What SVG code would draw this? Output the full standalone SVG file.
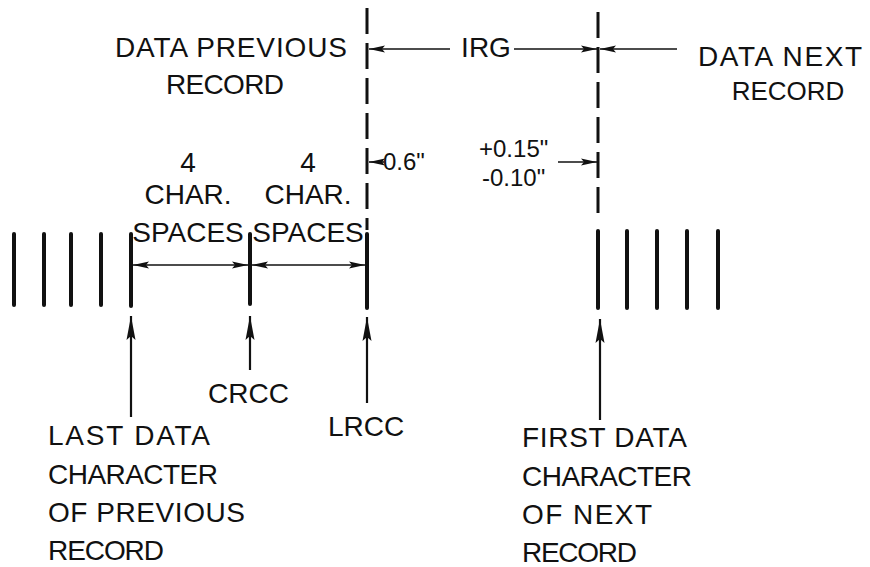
<svg xmlns="http://www.w3.org/2000/svg" width="870" height="567" viewBox="0 0 870 567">
<style>
text{font-family:"Liberation Sans",Arial,sans-serif;font-size:28px;fill:#111}
.sm{font-size:24px}
.bar{stroke:#111;stroke-width:4;stroke-linecap:round}
.dash{stroke:#111;stroke-width:3;stroke-dasharray:26 9;fill:none}
.arr{stroke:#111;stroke-width:1.6;fill:none;marker-end:url(#ah)}
.arr2{stroke:#111;stroke-width:1.6;fill:none;marker-start:url(#ah);marker-end:url(#ah)}
.up{stroke:#111;stroke-width:2.2;fill:none;marker-end:url(#uh)}
</style>
<defs>
<marker id="ah" viewBox="0 0 16 8" refX="16" refY="4" markerWidth="16" markerHeight="8" markerUnits="userSpaceOnUse" orient="auto-start-reverse"><path d="M0,0.5 L16,4 L0,7.5 L3,4 Z" fill="#111"/></marker>
<marker id="uh" viewBox="0 0 24 10" refX="24" refY="5" markerWidth="24" markerHeight="10" markerUnits="userSpaceOnUse" orient="auto"><path d="M0,0.5 L24,5 L0,9.5 L4,5 Z" fill="#111"/></marker>
</defs>
<rect width="870" height="567" fill="#fff"/>

<g id="prev-record-bars">
<line class="bar" x1="14" y1="234" x2="14" y2="305"/>
<line class="bar" x1="44" y1="234" x2="44" y2="305"/>
<line class="bar" x1="71" y1="234" x2="71" y2="305"/>
<line class="bar" x1="101" y1="234" x2="101" y2="305"/>
<line class="bar" x1="131" y1="234" x2="131" y2="306"/>
</g>
<g id="crcc-bar"><line class="bar" x1="250" y1="234" x2="250" y2="304"/></g>
<g id="lrcc-bar">
<line class="dash" x1="367" y1="8" x2="367" y2="230"/>
<line class="bar" x1="367" y1="234" x2="367" y2="308"/>
</g>
<g id="next-record-bars">
<line class="dash" x1="598" y1="12" x2="598" y2="222"/>
<line class="bar" x1="598" y1="231" x2="598" y2="308"/>
<line class="bar" x1="627" y1="231" x2="627" y2="308"/>
<line class="bar" x1="657" y1="231" x2="657" y2="308"/>
<line class="bar" x1="687" y1="231" x2="687" y2="308"/>
<line class="bar" x1="718" y1="231" x2="718" y2="308"/>
</g>

<g id="label-data-previous">
<text x="115" y="57" textLength="232">DATA PREVIOUS</text>
<text x="166" y="94" textLength="118">RECORD</text>
</g>
<g id="label-data-next">
<text x="698" y="66" textLength="164">DATA NEXT</text>
<text x="788" y="100" text-anchor="middle" style="font-size:26px">RECORD</text>
</g>
<g id="label-irg"><text x="486" y="57" text-anchor="middle">IRG</text></g>
<g id="label-gap">
<text class="sm" x="383" y="170">0.6"</text>
<text class="sm" x="479" y="157">+0.15"</text>
<text class="sm" x="482" y="186">-0.10"</text>
</g>
<g id="label-spaces-1">
<text x="188" y="172" text-anchor="middle">4</text>
<text x="188" y="204" text-anchor="middle">CHAR.</text>
<text x="188" y="242" text-anchor="middle">SPACES</text>
</g>
<g id="label-spaces-2">
<text x="308" y="172" text-anchor="middle">4</text>
<text x="308" y="204" text-anchor="middle">CHAR.</text>
<text x="308" y="242" text-anchor="middle">SPACES</text>
</g>
<g id="label-crcc"><text x="208" y="403">CRCC</text></g>
<g id="label-lrcc"><text x="328" y="436">LRCC</text></g>
<g id="label-last-data">
<text x="48" y="445" textLength="162">LAST DATA</text>
<text x="48" y="484" textLength="170">CHARACTER</text>
<text x="48" y="522" textLength="197">OF PREVIOUS</text>
<text x="48" y="560" textLength="116">RECORD</text>
</g>
<g id="label-first-data">
<text x="522" y="447" textLength="165">FIRST DATA</text>
<text x="522" y="486" textLength="170">CHARACTER</text>
<text x="522" y="524" textLength="130">OF NEXT</text>
<text x="522" y="562" textLength="115">RECORD</text>
</g>

<g id="connectors">
<line class="arr2" x1="133" y1="265" x2="248" y2="265"/>
<line class="arr2" x1="252" y1="265" x2="365" y2="265"/>
<line class="arr" x1="450" y1="49" x2="369" y2="49"/>
<line class="arr" x1="514" y1="49" x2="597" y2="49"/>
<line class="arr" x1="677" y1="49" x2="600" y2="49"/>
<line class="arr" x1="384" y1="162" x2="369" y2="162"/>
<line class="arr" x1="558" y1="162" x2="597" y2="162"/>
<line class="up" x1="131" y1="417" x2="131" y2="316"/>
<line class="up" x1="250" y1="370" x2="250" y2="316"/>
<line class="up" x1="367" y1="403" x2="367" y2="317"/>
<line class="up" x1="600" y1="420" x2="600" y2="319"/>
</g>
</svg>
